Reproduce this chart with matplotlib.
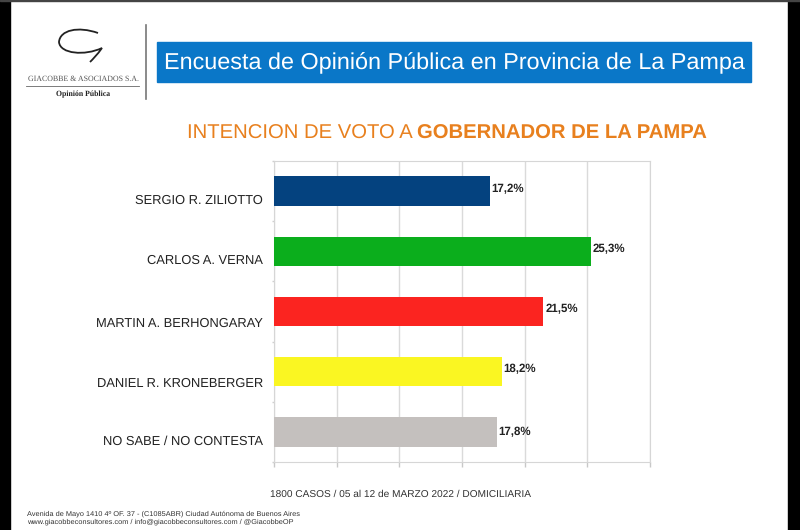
import matplotlib
matplotlib.use("Agg")
import matplotlib.pyplot as plt
from matplotlib.patches import Rectangle, PathPatch
from matplotlib.path import Path
from matplotlib.lines import Line2D

plt.rcParams['font.family'] = ['Liberation Sans', 'DejaVu Sans']
plt.rcParams['text.hinting'] = 'no_hinting'

categories = ["SERGIO R. ZILIOTTO", "CARLOS A. VERNA", "MARTIN A. BERHONGARAY",
              "DANIEL R. KRONEBERGER", "NO SABE / NO CONTESTA"]
values = [17.2, 25.3, 21.5, 18.2, 17.8]
value_labels = ["17,2%", "25,3%", "21,5%", "18,2%", "17,8%"]
colors = ["#04427F", "#0BAE1C", "#FB2420", "#FAF622", "#C4C0BE"]
ticks = [0, 5, 10, 15, 20, 25, 30]

# small hand placement of the labels, in pixels below the bar centre
category_shift = [9.5, 9.5, 12.5, 11.5, 9.5]
value_shift = [-2, -2, -2, -3, 0]

W, H = 800, 530
fig = plt.figure(figsize=(W/100, H/100), dpi=100, facecolor="white")

def px_axes(x0, y0, x1, y1):
    return fig.add_axes([x0/W, 1-y1/H, (x1-x0)/W, (y1-y0)/H])

ax = px_axes(274, 161, 650, 462)
ax.barh(range(5), values, height=0.49, color=colors, zorder=3)
ax.set_xlim(0, 30)
ax.set_ylim(4.5, -0.5)
ax.set_xticks(ticks)
ax.set_xticklabels([])
ax.grid(axis="x", color="#DADADA", lw=1, zorder=0)
ax.set_axisbelow(True)
ax.set_yticks([-0.5, 0.5, 1.5, 2.5, 3.5, 4.5])
ax.set_yticklabels([])
ax.tick_params(axis="y", length=1.5, color="#D0D0D0", width=1)
ax.tick_params(axis="x", length=3.6, color="#C8C8C8", width=1, direction="out")
for s in ["top", "right", "left", "bottom"]:
    ax.spines[s].set_color("#D6D6D6")
for i, (c, d) in enumerate(zip(categories, category_shift)):
    ax.annotate(c, (0, i), xytext=(-8, -d*0.72), textcoords="offset points",
                fontsize=9.3, color="#222222", va="center", ha="right")
for i, (v, t, d) in enumerate(zip(values, value_labels, value_shift)):
    ax.annotate(t, (v, i), xytext=(1.2, -d*0.72), textcoords="offset points",
                fontsize=8.3, fontweight="bold", color="#222222", va="center", ha="left")

# page overlay, in pixels
ov = fig.add_axes([0, 0, 1, 1], zorder=5)
ov.set_xlim(0, W); ov.set_ylim(H, 0); ov.axis("off")
ov.add_patch(Rectangle((0, 0), 10, H, color="#000000"))
ov.add_patch(Rectangle((788, 0), 12, H, color="#000000"))
ov.add_patch(Rectangle((0, 0), W, 1.2, color="#444444"))
ov.add_patch(Rectangle((157, 41.5), 594, 40.5, color="#0A77C8"))
ov.text(164, 63, "Encuesta de Opinión Pública en Provincia de La Pampa",
        fontsize=16.8, color="white", va="center", ha="left")
ov.add_line(Line2D([146, 146], [25, 99], color="#777777", lw=1.2))
ov.text(187, 133.5, "INTENCION DE VOTO A", fontsize=14.6, color="#E8801E", va="center", ha="left")
ov.text(417, 133.5, "GOBERNADOR DE LA PAMPA", fontsize=14.6, fontweight="bold",
        color="#E8801E", va="center", ha="left")
# logo
logo = Path([(98, 33), (78, 26), (60, 30), (59, 42), (60, 54), (85, 56), (102, 48),
             (97, 55), (93, 59), (90, 62)],
            [Path.MOVETO, Path.CURVE4, Path.CURVE4, Path.CURVE4, Path.CURVE4, Path.CURVE4,
             Path.CURVE4, Path.CURVE4, Path.CURVE4, Path.CURVE4])
ov.add_patch(PathPatch(logo, fill=False, edgecolor="#222222", lw=1.3))
ov.text(83, 79, "GIACOBBE & ASOCIADOS S.A.", fontsize=5.7, family="Liberation Serif",
        color="#555555", ha="center", va="center")
ov.add_line(Line2D([26, 139], [85.5, 85.5], color="#666666", lw=0.6))
ov.text(83, 94, "Opinión Pública", fontsize=5.6, family="Liberation Serif", fontweight="bold",
        color="#222222", ha="center", va="center")
# footer
ov.text(401, 494, "1800 CASOS / 05 al 12 de MARZO 2022 / DOMICILIARIA", fontsize=7.3,
        color="#333333", ha="center", va="center")
ov.text(27, 513.5, "Avenida de Mayo 1410 4º OF. 37 - (C1085ABR) Ciudad Autónoma de Buenos Aires",
        fontsize=5.35, color="#333333", ha="left", va="center")
ov.text(27, 521.5, "www.giacobbeconsultores.com / info@giacobbeconsultores.com / @GiacobbeOP",
        fontsize=5.35, color="#333333", ha="left", va="center")

fig.savefig("out.png", dpi=100)
